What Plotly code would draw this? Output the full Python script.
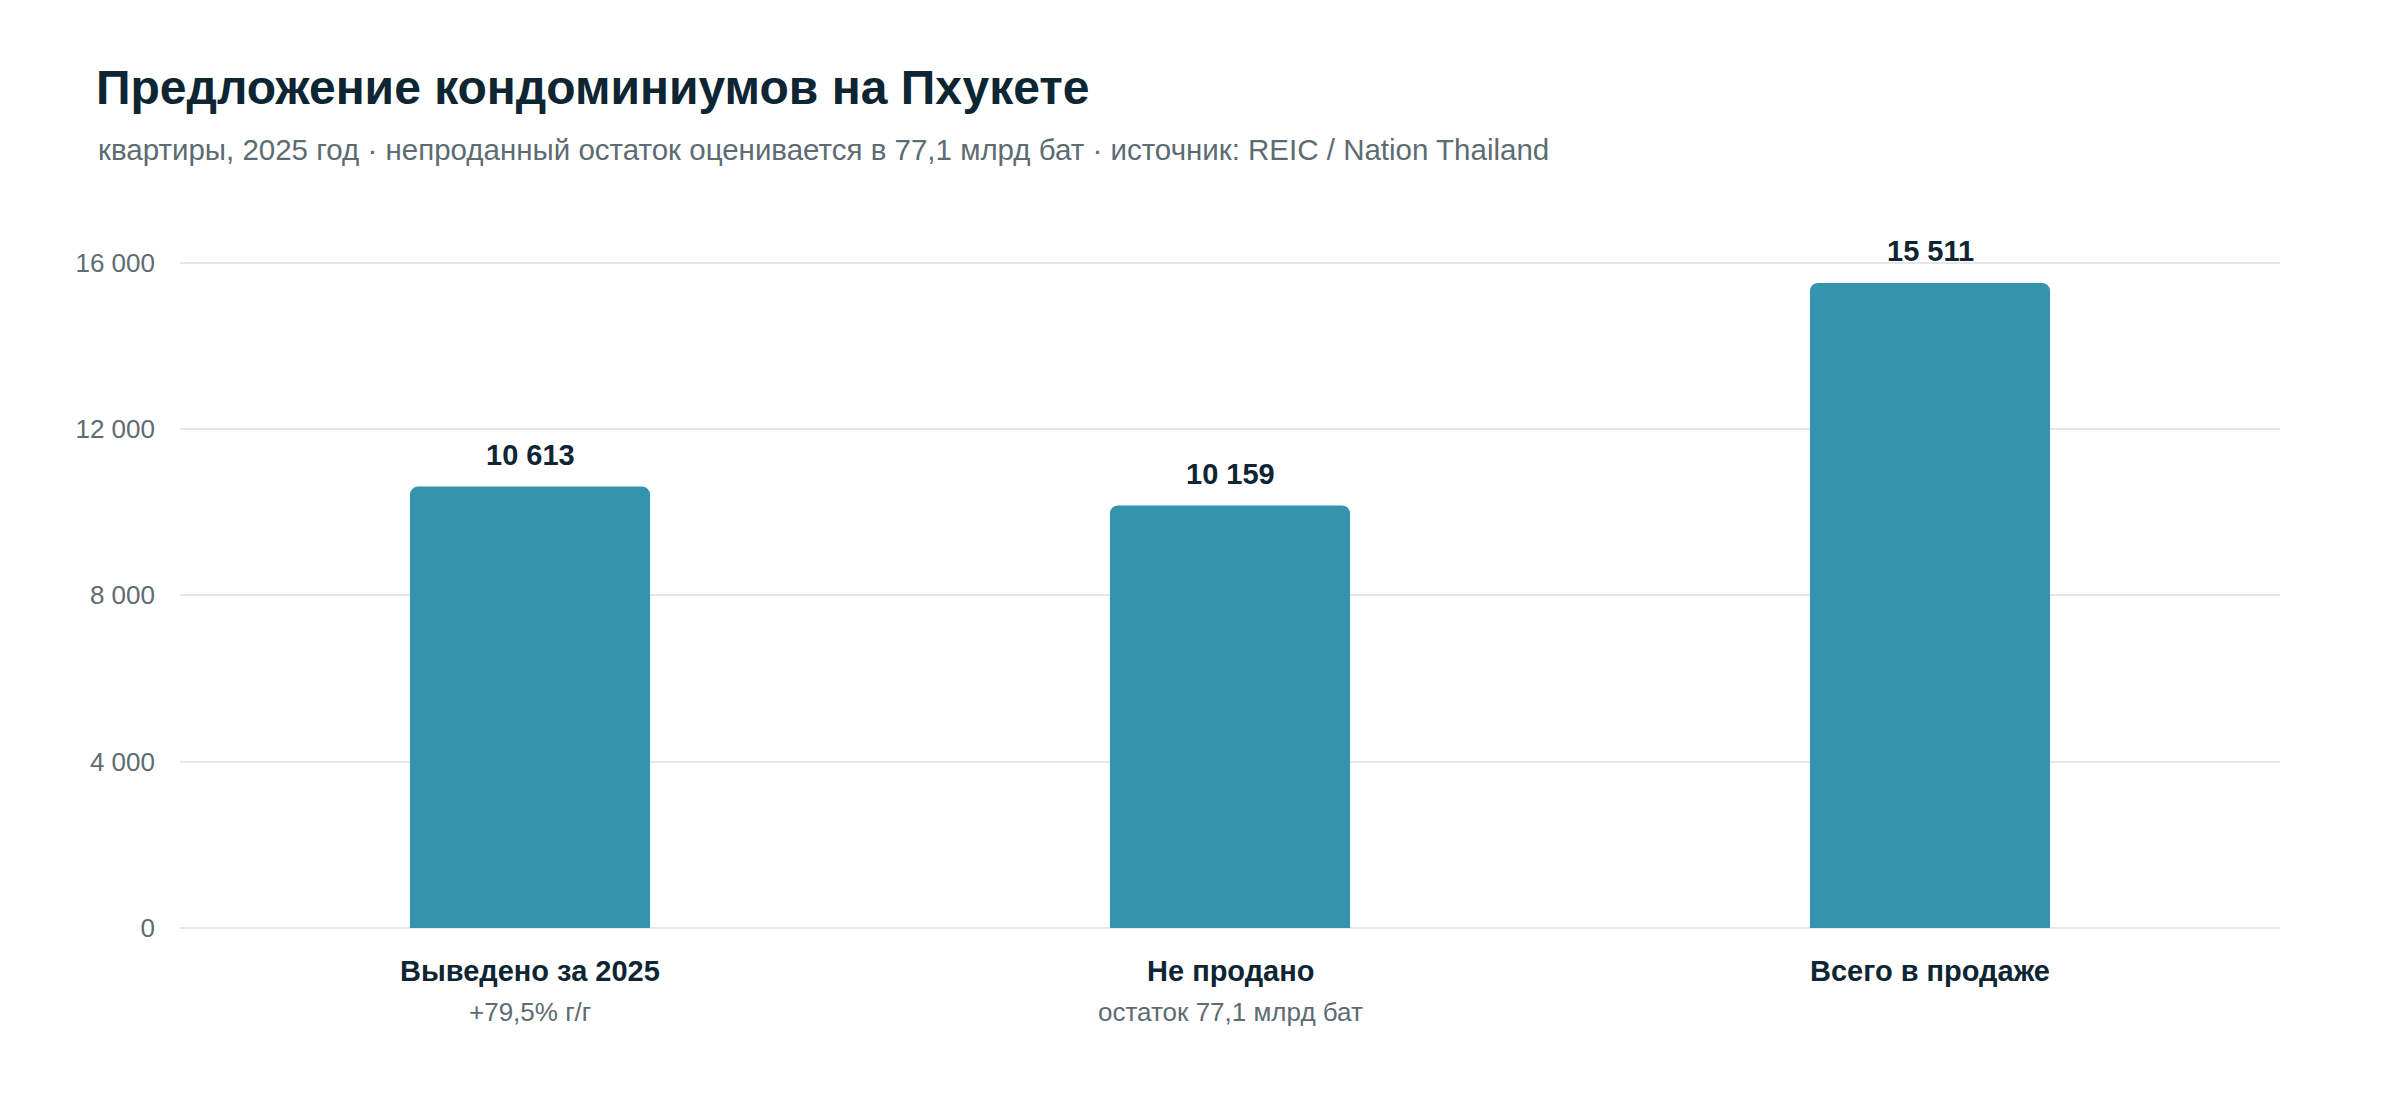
import plotly.graph_objects as go

categories = ['Выведено за 2025', 'Не продано', 'Всего в продаже']
sublabels = ['+79,5% г/г', 'остаток 77,1 млрд бат', '']
units = [10613, 10159, 15511]
tick_vals = [0, 4000, 8000, 12000, 16000]

FONT = 'Liberation Sans, Arial, Helvetica, sans-serif'
DARK = '#0e2533'
GREY = '#5d6b73'
BAR = '#3593ae'

fig = go.Figure()
fig.add_trace(go.Bar(
    x=categories, y=units,
    marker=dict(color=BAR, cornerradius=8, line=dict(width=0)),
    hoverinfo='skip',
))

# value labels above bars
for c, v in zip(categories, units):
    fig.add_annotation(x=c, y=v, text='<b>' + f'{v:,}'.replace(',', ' ') + '</b>',
                       showarrow=False, yanchor='middle', yshift=32,
                       font=dict(family=FONT, size=29, color=DARK))

# category labels + sublabels
for c, s in zip(categories, sublabels):
    fig.add_annotation(x=c, y=0, text='<b>' + c + '</b>', showarrow=False,
                       yanchor='middle', yshift=-43,
                       font=dict(family=FONT, size=29, color=DARK))
    if s:
        fig.add_annotation(x=c, y=0, text=s, showarrow=False,
                           yanchor='middle', yshift=-84,
                           font=dict(family=FONT, size=26, color=GREY))

fig.add_annotation(xref='paper', yref='paper', x=-0.04, y=1.101,
                   xanchor='left', yanchor='middle', showarrow=False,
                   text='квартиры, 2025 год · непроданный остаток оценивается в 77,1 млрд бат · источник: REIC / Nation Thailand',
                   font=dict(family=FONT, size=29.5, color=GREY))

fig.update_layout(
    width=2400, height=1120,
    paper_bgcolor='white', plot_bgcolor='white',
    separators=', ',
    margin=dict(l=172, r=128, t=213, b=200),
    bargap=0.657,
    showlegend=False,
    title=dict(text='<b>Предложение кондоминиумов на Пхукете</b>',
               xref='container', x=88 / 2400, xanchor='left',
               yref='container', y=1 - 79 / 1120, yanchor='middle',
               font=dict(family=FONT, size=48, color=DARK)),
    font=dict(family=FONT, color=GREY),
)
fig.update_xaxes(showticklabels=False, showgrid=False, showline=False, ticks='')
fig.update_yaxes(range=[0, 17000], tickvals=tick_vals, tickformat=',d',
                 showgrid=True, gridcolor='#e4e6e8', gridwidth=2,
                 zeroline=True, zerolinecolor='#e4e6e8', zerolinewidth=2,
                 showline=False, ticks='', ticklabelstandoff=24,
                 tickfont=dict(family=FONT, size=26, color=GREY))

fig.write_html('out.html')
